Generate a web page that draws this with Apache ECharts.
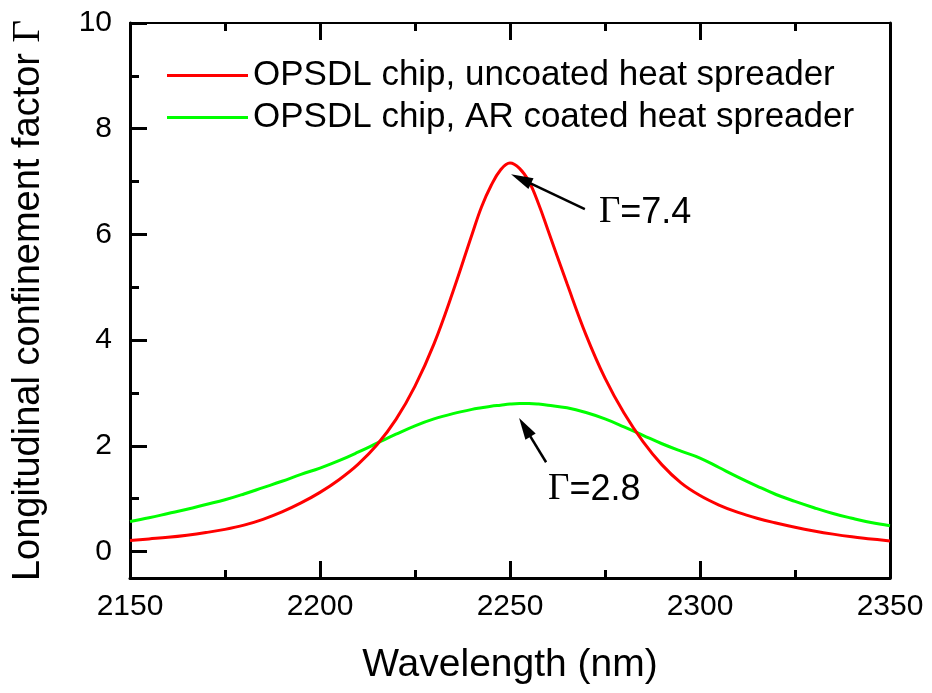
<!DOCTYPE html>
<html>
<head>
<meta charset="utf-8">
<script src="https://cdn.jsdelivr.net/npm/echarts@6/dist/echarts.min.js"></script>
<style>
  html, body { margin: 0; padding: 0; background: #fff; }
  #chart { width: 932px; height: 693px; }
</style>
</head>
<body>
<div id="chart"></div>
<script>
// Wavelength samples (nm)
const wavelengths = [2150, 2155, 2160, 2165, 2170, 2175, 2180, 2185, 2190, 2195,
  2200, 2205, 2210, 2215, 2220, 2225, 2230, 2235, 2240, 2242.5, 2245, 2247.5, 2250,
  2252.5, 2255, 2257.5, 2260, 2265, 2270, 2275, 2280, 2285, 2290, 2295, 2300, 2305,
  2310, 2315, 2320, 2325, 2330, 2335, 2340, 2345, 2350];

// Longitudinal confinement factor, uncoated heat spreader
const uncoated = [0.21, 0.24, 0.27, 0.31, 0.36, 0.42, 0.50, 0.61, 0.75, 0.92,
  1.12, 1.36, 1.65, 2.02, 2.50, 3.13, 3.93, 4.92, 6.0, 6.52, 6.92, 7.22, 7.35,
  7.25, 7.0, 6.58, 6.08, 5.07, 4.1, 3.28, 2.62, 2.08, 1.64, 1.30, 1.06, 0.88,
  0.74, 0.63, 0.54, 0.46, 0.39, 0.33, 0.28, 0.24, 0.20];

// Longitudinal confinement factor, AR coated heat spreader
const coated = [0.57, 0.64, 0.72, 0.80, 0.89, 0.98, 1.09, 1.21, 1.33, 1.46,
  1.58, 1.72, 1.88, 2.05, 2.22, 2.38, 2.51, 2.61, 2.69, 2.72, 2.75, 2.77, 2.79,
  2.80, 2.80, 2.79, 2.77, 2.72, 2.63, 2.51, 2.36, 2.20, 2.04, 1.90, 1.77, 1.59,
  1.41, 1.24, 1.08, 0.95, 0.83, 0.72, 0.63, 0.55, 0.49];

const seriesNames = ['OPSDL chip, uncoated heat spreader', 'OPSDL chip, AR coated heat spreader'];
const yMajorTicks = [0, 2, 4, 6, 8, 10];
const yMinorTicks = [1, 3, 5, 7, 9];

// Peak annotations: arrow tail, arrow head, label anchor (data coordinates)
const peakUncoated = { value: 7.4, tail: [2269.7, 6.48], head: [2252.9, 7.05], text: [2273.4, 6.41] };
const peakCoated = { value: 2.8, tail: [2259.5, 1.69], head: [2253.9, 2.35], text: [2260.0, 1.17] };

const SANS = '"Liberation Sans", Arial, sans-serif';
const SERIF = '"Liberation Serif", "Times New Roman", serif';

function pairs(xs, ys) { return xs.map((x, i) => [x, ys[i]]); }

function arrow(p) {
  return [{ coord: p.tail, symbol: 'none' }, { coord: p.head, symbol: 'triangle', symbolSize: [12, 22] }];
}

function peakLabel(p) {
  return {
    coord: p.text,
    symbol: 'circle',
    symbolSize: 0,
    label: {
      show: true,
      position: 'right',
      distance: 0,
      formatter: '{g|Γ}{v|=' + p.value.toFixed(1) + '}',
      rich: {
        g: { fontFamily: SERIF, fontSize: 37, color: '#000' },
        v: { fontFamily: SANS, fontSize: 36, color: '#000' }
      }
    }
  };
}

const chart = echarts.init(document.getElementById('chart'), null, { renderer: 'canvas' });

const baseY = { type: 'value', min: -0.5, max: 10, splitLine: { show: false } };
const baseX = { type: 'value', min: 2150, max: 2350, interval: 50, splitLine: { show: false } };

chart.setOption({
  animation: false,
  backgroundColor: '#fff',
  grid: { left: 130, right: 42, top: 23, bottom: 115, containLabel: false },
  legend: {
    orient: 'vertical',
    left: 162,
    top: 53,
    icon: 'rect',
    itemWidth: 81,
    itemHeight: 3,
    itemGap: 7,
    textStyle: { fontFamily: SANS, fontSize: 35, color: '#000', lineHeight: 35, padding: [0, 0, 0, 0] },
    data: seriesNames
  },
  xAxis: [
    Object.assign({}, baseX, {
      position: 'bottom',
      name: 'Wavelength (nm)',
      nameLocation: 'middle',
      nameGap: 68,
      nameTextStyle: { fontFamily: SANS, fontSize: 39, color: '#000' },
      axisLine: { show: true, onZero: false, lineStyle: { color: '#000', width: 3 } },
      axisTick: { show: true, inside: true, length: 17, lineStyle: { color: '#000', width: 3 } },
      minorTick: { show: true, splitNumber: 2, length: 8, lineStyle: { color: '#000', width: 3 } },
      axisLabel: { show: true, margin: 14, fontFamily: SANS, fontSize: 30, color: '#000', formatter: v => String(v) }
    }),
    Object.assign({}, baseX, {
      position: 'top',
      axisLine: { show: true, onZero: false, lineStyle: { color: '#000', width: 2 } },
      axisTick: { show: true, inside: true, length: 17, lineStyle: { color: '#000', width: 3 } },
      minorTick: { show: true, splitNumber: 2, length: 8, lineStyle: { color: '#000', width: 3 } },
      axisLabel: { show: false }
    })
  ],
  yAxis: [
    Object.assign({}, baseY, {
      position: 'left',
      name: 'Longitudinal confinement factor {g|Γ}',
      nameLocation: 'middle',
      nameGap: 82,
      nameTextStyle: {
        fontFamily: SANS, fontSize: 38, color: '#000',
        rich: { g: { fontFamily: SERIF, fontSize: 39, color: '#000' } }
      },
      axisLine: { show: true, onZero: false, lineStyle: { color: '#000', width: 3 } },
      axisTick: { show: true, inside: true, length: 17, customValues: yMajorTicks, lineStyle: { color: '#000', width: 3 } },
      axisLabel: { show: true, margin: 18, customValues: yMajorTicks, fontFamily: SANS, fontSize: 30, color: '#000' }
    }),
    Object.assign({}, baseY, {
      position: 'left',
      offset: 0,
      axisLine: { show: false },
      axisTick: { show: true, inside: true, length: 9, customValues: yMinorTicks, lineStyle: { color: '#000', width: 3 } },
      axisLabel: { show: false }
    }),
    Object.assign({}, baseY, {
      position: 'right',
      axisLine: { show: true, onZero: false, lineStyle: { color: '#000', width: 3 } },
      axisTick: { show: false },
      axisLabel: { show: false }
    })
  ],
  series: [
    {
      name: seriesNames[0],
      type: 'line',
      xAxisIndex: 0,
      yAxisIndex: 0,
      data: pairs(wavelengths, uncoated),
      showSymbol: false,
      smooth: 0.4,
      color: '#ff0000',
      lineStyle: { color: '#ff0000', width: 3 },
      z: 3,
      markLine: {
        silent: true,
        animation: false,
        label: { show: false },
        lineStyle: { color: '#000', width: 2.5, type: 'solid' },
        itemStyle: { color: '#000' },
        data: [arrow(peakUncoated), arrow(peakCoated)]
      },
      markPoint: {
        silent: true,
        animation: false,
        data: [peakLabel(peakUncoated), peakLabel(peakCoated)]
      }
    },
    {
      name: seriesNames[1],
      type: 'line',
      xAxisIndex: 0,
      yAxisIndex: 0,
      data: pairs(wavelengths, coated),
      showSymbol: false,
      smooth: 0.4,
      color: '#00ff00',
      lineStyle: { color: '#00ff00', width: 3 },
      z: 2
    }
  ]
});
</script>
</body>
</html>
